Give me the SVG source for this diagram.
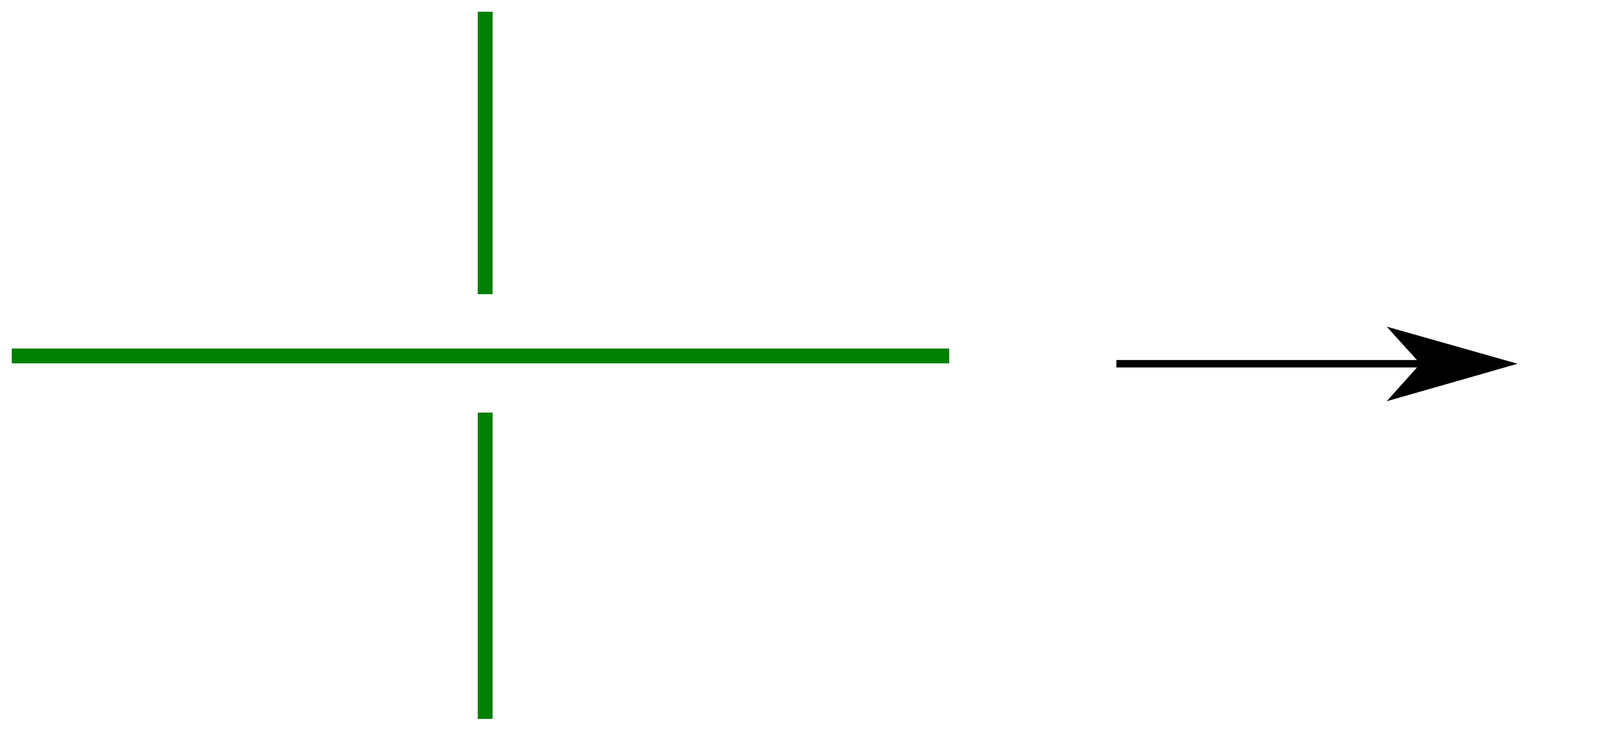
<svg xmlns="http://www.w3.org/2000/svg" width="6528" height="1871" viewBox="0 0 6528 1871">
<style>
.g{stroke:#008000;stroke-width:38;fill:none}
.r{stroke:#ff0000;stroke-width:38;fill:none}
.b{stroke:#0000ff;stroke-width:38;fill:none}
.n{stroke:#000;stroke-width:10.5;fill:#fff}
.t{font-family:"DejaVu Sans","Liberation Sans",sans-serif;font-size:193px;fill:#000}
</style>
<rect width="6528" height="1871" fill="#fff"/>
<g id="connectors">
<line class="g" x1="1242" y1="30" x2="1242" y2="753"/>
<line class="g" x1="30" y1="911" x2="2430" y2="911"/>
<line class="g" x1="1242" y1="1056" x2="1242" y2="1840"/>
<line x1="2858" y1="931" x2="3650" y2="931" stroke="#000" stroke-width="19"/>
<polygon points="3885,931 3550,836 3636,931 3550,1027" fill="#000"/>
<line class="g" x1="4267" y1="911" x2="4792" y2="911"/>
<line class="g" x1="5479" y1="30" x2="5479" y2="1840"/>
<line class="r" x1="5120" y1="919" x2="5794" y2="919"/>
<line class="g" x1="6122" y1="925" x2="6497" y2="925"/>
</g>
<g id="ring">
<circle class="b" cx="4950" cy="925" r="251"/>
</g>
<g id="nodeP">
<circle class="n" cx="4956" cy="921" r="162"/>
<text class="t" x="4901" y="982">P</text>
</g>
<g id="nodeQ">
<circle class="n" cx="5954" cy="927" r="162"/>
<text class="t" transform="scale(-1,1)" x="-6010" y="987">P</text>
</g>
</svg>
